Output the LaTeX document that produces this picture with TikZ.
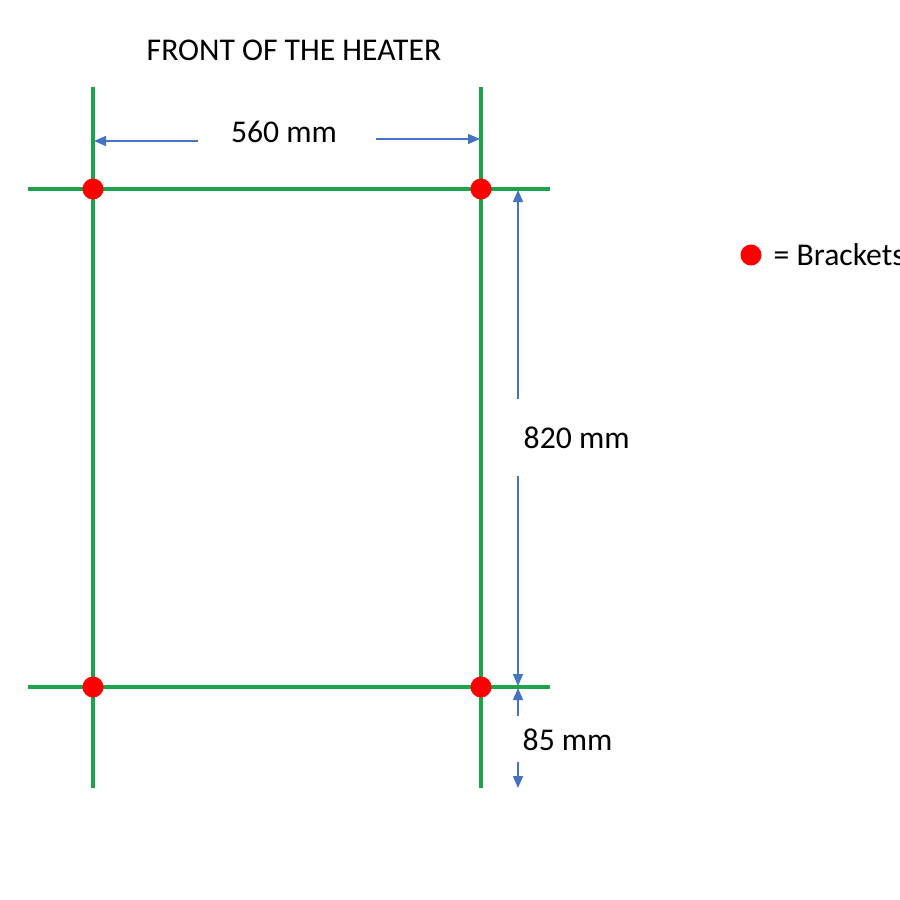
\documentclass[tikz,border=0pt]{standalone}
\usepackage{fontspec}
\setmainfont{Carlito}
\usetikzlibrary{arrows.meta}
\definecolor{rail}{HTML}{1BA548}
\definecolor{dim}{HTML}{4472C4}
\definecolor{dot}{HTML}{FF0000}
\begin{document}
\begin{tikzpicture}[x=0.01cm,y=-0.01cm,
  railline/.style={draw=rail,line width=1.15pt},
  bracket/.style={circle,fill=dot,inner sep=0pt,minimum size=0.21cm},
  dimline/.style={draw=dim,line width=0.4pt,-{Triangle[length=0.12cm,width=0.1cm]}},
  lbl/.style={font=\fontsize{9pt}{10pt}\selectfont,inner sep=0pt,anchor=west}]
\useasboundingbox (0,0) rectangle (900,900);
\fill[white] (0,0) rectangle (900,900);
% rails
\coordinate (lt) at (93,87);  \coordinate (lb) at (93,788);
\coordinate (rt) at (481,87); \coordinate (rb) at (481,788);
\coordinate (tl) at (28,189); \coordinate (tr) at (550,189);
\coordinate (bl) at (28,687); \coordinate (br) at (550,687);
\draw[railline] (lt) -- (lb);
\draw[railline] (rt) -- (rb);
\draw[railline] (tl) -- (tr);
\draw[railline] (bl) -- (br);
% brackets
\node[bracket] (b1) at (93,189) {};
\node[bracket] (b2) at (481,189) {};
\node[bracket] (b3) at (93,687) {};
\node[bracket] (b4) at (481,687) {};
% title
\node[lbl,anchor=center] (title) at (294,50) {FRONT OF THE HEATER};
% 560 dimension
\node[lbl,anchor=center] (w) at (284,132) {560 mm};
\coordinate (wl0) at (198,141); \coordinate (wl1) at (94,141);
\coordinate (wr0) at (376,139); \coordinate (wr1) at (480,139);
\draw[dimline] (wl0) -- (wl1);
\draw[dimline] (wr0) -- (wr1);
% 820 dimension
\node[lbl] (h) at (523,438) {820 mm};
\coordinate (hu0) at (518,399); \coordinate (hu1) at (518,190);
\coordinate (hd0) at (518,476); \coordinate (hd1) at (518,686);
\draw[dimline] (hu0) -- (hu1);
\draw[dimline] (hd0) -- (hd1);
% 85 dimension
\node[lbl] (g) at (522,740) {85 mm};
\coordinate (gu0) at (518,716); \coordinate (gu1) at (518,688);
\coordinate (gd0) at (518,762); \coordinate (gd1) at (518,788);
\draw[dimline] (gu0) -- (gu1);
\draw[dimline] (gd0) -- (gd1);
% legend
\node[bracket] (ld) at (751,255) {};
\node[lbl] (lt2) at (773,255) {= Brackets};
\end{tikzpicture}
\end{document}
